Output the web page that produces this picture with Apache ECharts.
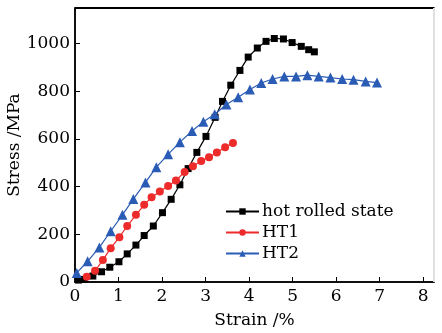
<!DOCTYPE html>
<html>
<head>
<meta charset="utf-8">
<script src="https://cdn.jsdelivr.net/npm/echarts@6/dist/echarts.min.js"></script>
<style>
  html, body { margin: 0; padding: 0; background: #fff; }
  #chart { width: 442px; height: 333px; }
</style>
</head>
<body>
<div id="chart"></div>
<script>
// strain (%) and stress (MPa)
const hotRolledStrain = [0.08, 0.21, 0.41, 0.61, 0.80, 1.01, 1.20, 1.40, 1.59, 1.80, 2.01, 2.21, 2.41, 2.60, 2.80, 3.01, 3.22, 3.39, 3.58, 3.79, 3.98, 4.19, 4.39, 4.58, 4.79, 4.99, 5.20, 5.37, 5.50];
const hotRolledStress = [8, 11, 25, 43, 62, 85, 118, 155, 195, 235, 291, 347, 408, 476, 544, 611, 691, 758, 826, 888, 944, 982, 1010, 1022, 1020, 1005, 989, 975, 966];

const ht1Strain = [0.27, 0.46, 0.64, 0.82, 1.02, 1.20, 1.40, 1.59, 1.76, 1.95, 2.14, 2.32, 2.52, 2.71, 2.90, 3.08, 3.26, 3.45, 3.63];
const ht1Stress = [22, 47, 92, 142, 188, 235, 282, 324, 356, 380, 403, 426, 462, 486, 508, 524, 543, 566, 583];

const ht2Strain = [0.04, 0.29, 0.56, 0.82, 1.09, 1.34, 1.62, 1.87, 2.14, 2.41, 2.69, 2.95, 3.21, 3.48, 3.75, 4.02, 4.28, 4.54, 4.81, 5.08, 5.34, 5.60, 5.87, 6.14, 6.40, 6.68, 6.94];
const ht2Stress = [38, 87, 145, 213, 282, 348, 418, 482, 536, 587, 634, 673, 704, 745, 775, 808, 835, 852, 863, 863, 868, 863, 858, 852, 849, 842, 837];

const seriesNames = ['hot rolled state', 'HT1', 'HT2'];
const xTicks = [0, 1, 2, 3, 4, 5, 6, 7, 8];
const yTicks = [0, 200, 400, 600, 800, 1000];
const xMax = 8.25;
const yMax = 1150;

const pairs = (xs, ys) => xs.map((x, i) => [x, ys[i]]);

const font = 'DejaVu Serif';
const chart = echarts.init(document.getElementById('chart'));

chart.setOption({
    animation: false,
    textStyle: { fontFamily: font, color: '#000' },
    grid: {
        left: 75, right: 8, top: 8, bottom: 51,
        containLabel: false, outerBoundsMode: 'none',
        show: true, borderColor: '#000', borderWidth: 1.5
    },
    legend: {
        orient: 'vertical',
        left: 220,
        top: 198,
        itemWidth: 33,
        itemHeight: 8,
        itemGap: 4,
        data: seriesNames,
        textStyle: { fontFamily: font, fontSize: 17, color: '#000', padding: [0, 0, 0, -2] }
    },
    xAxis: {
        type: 'value',
        min: 0,
        max: xMax,
        interval: 1,
        name: 'Strain /%',
        nameLocation: 'middle',
        nameGap: 30,
        nameMoveOverlap: false,
        nameTextStyle: { fontFamily: font, fontSize: 17, color: '#000' },
        axisLine: { onZero: false, lineStyle: { color: '#000', width: 1.5 } },
        axisTick: { inside: true, length: 5, lineStyle: { color: '#000' } },
        axisLabel: {
            fontFamily: font, fontSize: 17, color: '#000', margin: 6,
            formatter: v => xTicks.includes(v) ? String(v) : ''
        },
        splitLine: { show: false }
    },
    yAxis: {
        type: 'value',
        min: 0,
        max: yMax,
        interval: 200,
        name: 'Stress /MPa',
        nameLocation: 'middle',
        nameGap: 52,
        nameMoveOverlap: false,
        nameTextStyle: { fontFamily: font, fontSize: 17, color: '#000' },
        axisLine: { show: true, onZero: false, lineStyle: { color: '#000', width: 1.5 } },
        axisTick: { inside: true, length: 5, lineStyle: { color: '#000' } },
        axisLabel: {
            fontFamily: font, fontSize: 17, color: '#000', margin: 5,
            formatter: v => yTicks.includes(v) ? String(v) : ''
        },
        splitLine: { show: false }
    },
    series: [{
        name: seriesNames[0],
        type: 'line',
        data: pairs(hotRolledStrain, hotRolledStress),
        symbol: 'rect',
        symbolSize: 7,
        itemStyle: { color: '#000' },
        lineStyle: { color: '#000', width: 1.2 },
        // plot frame: top edge black, right edge faint
        markLine: {
            silent: true,
            symbol: 'none',
            label: { show: false },
            emphasis: { disabled: true },
            animation: false,
            data: [
                { yAxis: yMax, lineStyle: { color: '#000', width: 2, type: 'solid' } },
                { xAxis: xMax, lineStyle: { color: '#e0e0e0', width: 2, type: 'solid' } }
            ]
        }
    }, {
        name: seriesNames[1],
        type: 'line',
        data: pairs(ht1Strain, ht1Stress),
        symbol: 'circle',
        symbolSize: 8,
        itemStyle: { color: '#ee2b2b' },
        lineStyle: { color: '#ee2b2b', width: 1.2 }
    }, {
        name: seriesNames[2],
        type: 'line',
        data: pairs(ht2Strain, ht2Stress),
        symbol: 'triangle',
        symbolSize: 10,
        itemStyle: { color: '#2b5cb5' },
        lineStyle: { color: '#2b5cb5', width: 1.2 }
    }]
});
</script>
</body>
</html>
